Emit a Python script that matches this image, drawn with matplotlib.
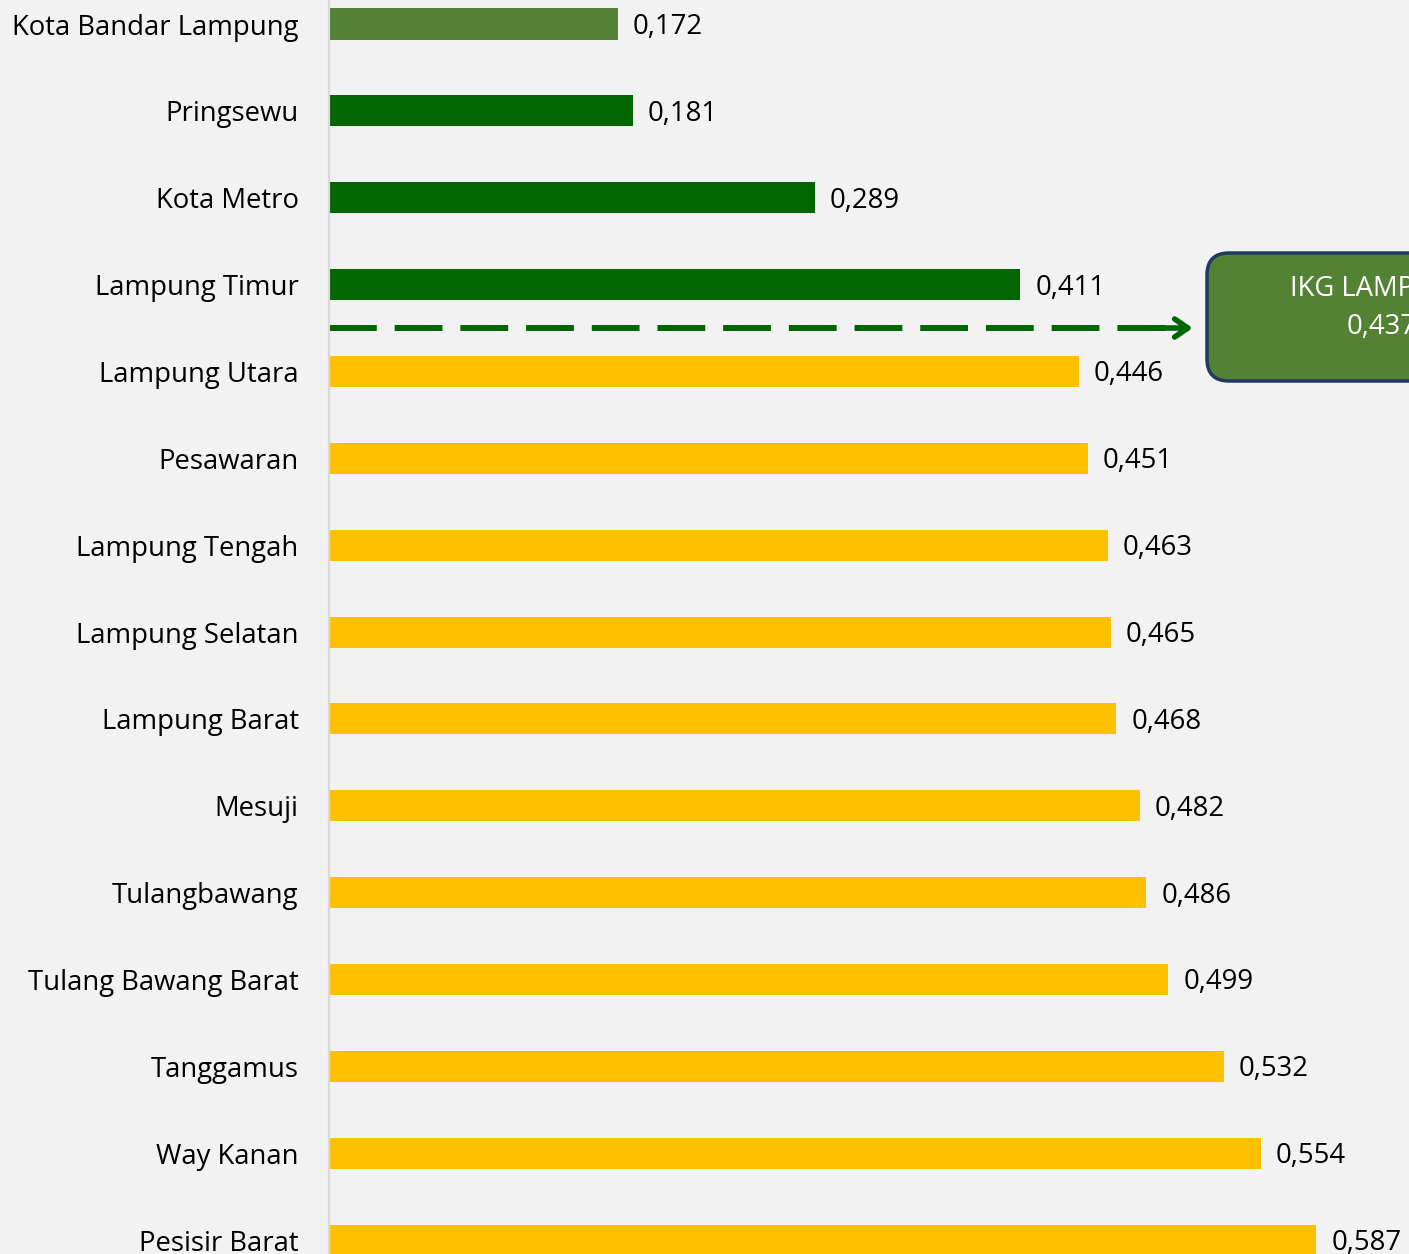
import matplotlib.pyplot as plt
from matplotlib.patches import FancyBboxPatch
from matplotlib.transforms import IdentityTransform

plt.rcParams['font.family'] = ['Open Sans', 'DejaVu Sans']

regions = ['Kota Bandar Lampung', 'Pringsewu', 'Kota Metro', 'Lampung Timur',
           'Lampung Utara', 'Pesawaran', 'Lampung Tengah', 'Lampung Selatan',
           'Lampung Barat', 'Mesuji', 'Tulangbawang', 'Tulang Bawang Barat',
           'Tanggamus', 'Way Kanan', 'Pesisir Barat']
ikg = [0.172, 0.181, 0.289, 0.411, 0.446, 0.451, 0.463, 0.465, 0.468,
       0.482, 0.486, 0.499, 0.532, 0.554, 0.587]
ikg_provinsi = 0.437

bg = '#F2F2F2'
colors = []
for i, v in enumerate(ikg):
    if i == 0:
        colors.append('#538135')
    elif v < ikg_provinsi:
        colors.append('#006600')
    else:
        colors.append('#FFC000')

W, H = 1409, 1254
fs = 19.8
fig = plt.figure(figsize=(W / 100, H / 100), dpi=100, facecolor=bg)
left = 328.5 / W
ax = fig.add_axes([left, 0, 1 - left, 1], facecolor=bg)

ypos = list(range(len(regions)))
ax.barh(ypos, ikg, height=0.357, color=colors)
ax.set_xlim(0, (W - 328.5) / 1683)
ax.set_ylim((H - 24) / 86.86, -24 / 86.86)

ax.set_yticks(ypos)
ax.set_yticklabels(regions, fontsize=fs)
ax.tick_params(axis='y', length=0, pad=21.5)
ax.set_xticks([])
for s in ['top', 'right', 'bottom']:
    ax.spines[s].set_visible(False)
ax.spines['left'].set_color('#D9D9D9')
ax.spines['left'].set_linewidth(1.6)

for y, v in zip(ypos, ikg):
    ax.annotate(f'{v:.3f}'.replace('.', ','), (v, y), xytext=(15, -3),
                textcoords='offset pixels', va='center', ha='left',
                fontsize=fs, annotation_clip=False)

# dashed connector between the groups pointing at the provincial value box
ax.plot([0.0005, 0.505], [3.5, 3.5], color='#006600', lw=4.3,
        dashes=(8.0, 3.0), solid_capstyle='butt', clip_on=False)
ax.annotate('', xy=(0.5135, 3.5), xytext=(0.495, 3.5),
            arrowprops=dict(arrowstyle='->,head_length=0.95,head_width=0.65',
                            color='#006600', lw=4.0, shrinkA=0, shrinkB=0),
            annotation_clip=False)

box = FancyBboxPatch((1207, H - 381), 340, 128,
                     boxstyle='round,pad=0,rounding_size=22',
                     transform=IdentityTransform(), facecolor='#548235',
                     edgecolor='#1F3864', lw=2.5, clip_on=False)
fig.patches.append(box)
fig.text(1382 / W, 1 - 289 / H, 'IKG LAMPUNG', color='white', fontsize=fs,
         ha='center', va='center')
fig.text(1382 / W, 1 - 327 / H, f'{ikg_provinsi:.3f}'.replace('.', ','),
         color='white', fontsize=fs, ha='center', va='center')

fig.savefig('out.png', dpi=100, facecolor=bg)
